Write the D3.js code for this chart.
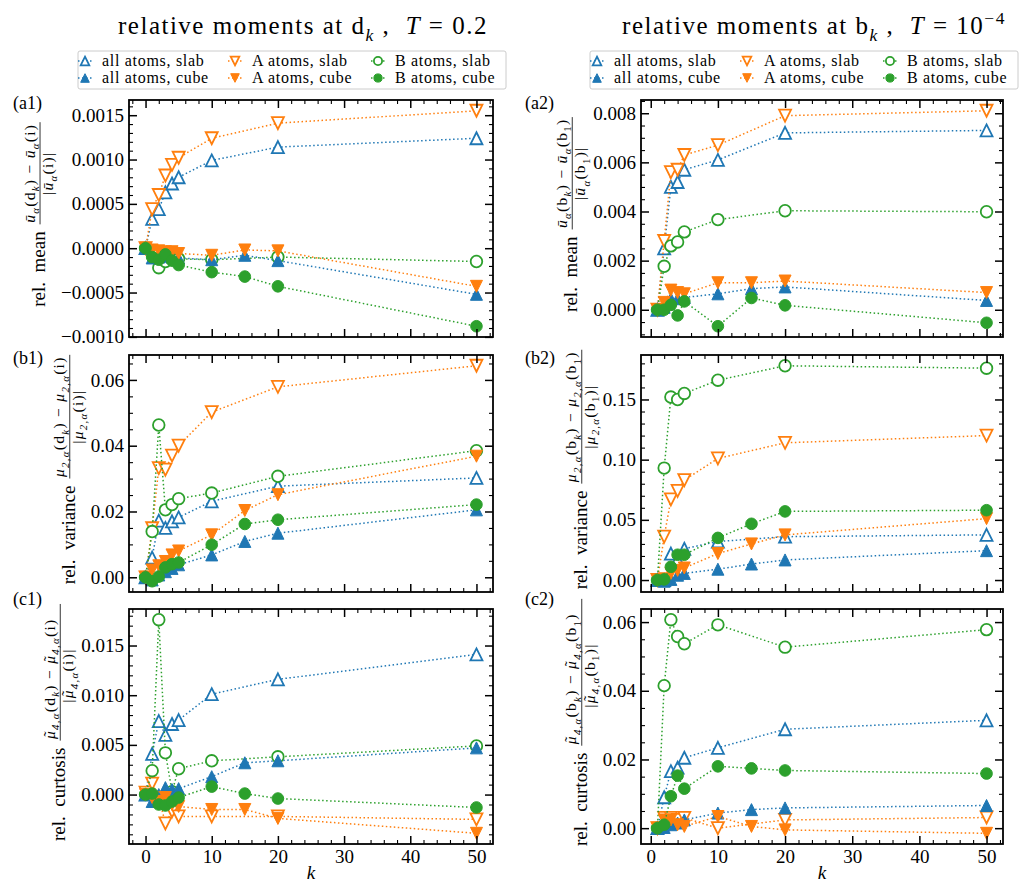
<!DOCTYPE html>
<html>
<head>
<meta charset="utf-8">
<script src="https://cdn.jsdelivr.net/npm/d3@7"></script>
<style>
  body { margin: 0; background: #fff; }
  svg { display: block; }
  svg text { font-family: "Liberation Serif", "Times New Roman", serif; fill: #000; }
</style>
</head>
<body>
<svg id="fig" width="1026" height="884"></svg>
<script>
// ---- k values (slab runs skip k = 15) ----
const kD_slab = [0, 1, 2, 3, 4, 5, 10, 20, 50];
const kD_cube = [0, 1, 2, 3, 4, 5, 10, 15, 20, 50];
const kB_slab = [1, 2, 3, 4, 5, 10, 20, 50];
const kB_cube = [1, 2, 3, 4, 5, 10, 15, 20, 50];

// ---- relative mean, d_k, T = 0.2 ----
const meanD_allSlab = [0, 0.00033, 0.00044, 0.00063, 0.00073, 0.00080, 0.00099, 0.00114, 0.00124];
const meanD_allCube = [0, -0.00011, -0.00010, -0.00009, -0.00010, -0.00011, -0.00013, -0.00008, -0.00014, -0.00052];
const meanD_ASlab   = [0, 0.00044, 0.00060, 0.00082, 0.00094, 0.00102, 0.00124, 0.00141, 0.00155];
const meanD_ACube   = [0, -0.00002, -0.00003, -0.00004, -0.00004, -0.00006, -0.00008, -0.00002, -0.00003, -0.00043];
const meanD_BSlab   = [0, -0.00003, -0.00022, -0.00015, -0.00011, -0.00012, -0.00013, -0.00010, -0.00015];
const meanD_BCube   = [0, -0.00010, -0.00013, -0.00007, -0.00014, -0.00019, -0.00027, -0.00032, -0.00043, -0.00088];

// ---- relative mean, b_k, T = 1e-4 ----
const meanB_allSlab = [0, 0.0025, 0.0050, 0.0052, 0.0057, 0.0061, 0.0072, 0.0073];
const meanB_allCube = [0, 0.0001, 0.00045, 0.00045, 0.0005, 0.00065, 0.00086, 0.00093, 0.00038];
const meanB_ASlab   = [0, 0.0028, 0.0056, 0.0057, 0.0063, 0.0067, 0.0079, 0.0081];
const meanB_ACube   = [0, 0.0003, 0.0008, 0.0007, 0.00065, 0.0011, 0.0011, 0.00117, 0.0007];
const meanB_BSlab   = [0, 0.00177, 0.0026, 0.00276, 0.00317, 0.00367, 0.00403, 0.00399];
const meanB_BCube   = [0, 0.0, 0.0002, -0.00023, 0.00034, -0.00067, 0.00048, 0.00018, -0.00053];

// ---- relative variance, d_k ----
const varD_allSlab = [0, 0.0060, 0.0172, 0.0150, 0.0170, 0.0182, 0.0231, 0.0277, 0.0302];
const varD_allCube = [0, -0.0008, 0.0007, 0.0017, 0.0027, 0.0038, 0.0068, 0.0109, 0.0134, 0.0205];
const varD_ASlab   = [0, 0.0149, 0.0332, 0.0327, 0.0370, 0.0400, 0.0502, 0.0579, 0.0643];
const varD_ACube   = [0, 0.0022, 0.0035, 0.0048, 0.0068, 0.0080, 0.0129, 0.0203, 0.0251, 0.0368];
const varD_BSlab   = [0, 0.0139, 0.0463, 0.0205, 0.0221, 0.0239, 0.0256, 0.0307, 0.0385];
const varD_BCube   = [0, -0.0012, 0.0002, 0.0030, 0.0040, 0.0045, 0.0099, 0.0162, 0.0175, 0.0221];

// ---- relative variance, b_k ----
const varB_allSlab = [0, 0.000, 0.022, 0.017, 0.026, 0.032, 0.036, 0.0375];
const varB_allCube = [0, -0.001, 0.0005, 0.004, 0.0055, 0.009, 0.0133, 0.0167, 0.0244];
const varB_ASlab   = [0, 0.036, 0.067, 0.074, 0.083, 0.101, 0.114, 0.120];
const varB_ACube   = [0, 0.001, 0.0055, 0.008, 0.010, 0.022, 0.030, 0.0375, 0.051];
const varB_BSlab   = [0, 0.093, 0.152, 0.150, 0.155, 0.166, 0.178, 0.176];
const varB_BCube   = [0, 0.0005, 0.011, 0.021, 0.021, 0.035, 0.0467, 0.057, 0.058];

// ---- relative curtosis, d_k ----
const curtD_allSlab = [0, 0.0041, 0.0074, 0.0060, 0.0071, 0.0075, 0.0101, 0.0116, 0.0141];
const curtD_allCube = [0, -0.0007, 0.0000, 0.0007, 0.0005, 0.0006, 0.0018, 0.0032, 0.0034, 0.0047];
const curtD_ASlab   = [0.0002, 0.0011, -0.0003, -0.0029, -0.0017, -0.0022, -0.0022, -0.0022, -0.0025];
const curtD_ACube   = [0, -0.0003, -0.0007, -0.0003, -0.0010, -0.0012, -0.0015, -0.0015, -0.0024, -0.0039];
const curtD_BSlab   = [0, 0.0024, 0.0176, 0.0042, 0.0003, 0.0026, 0.0034, 0.0038, 0.0049];
const curtD_BCube   = [0, 0.0001, -0.0010, -0.0011, -0.0007, -0.0003, 0.0008, 0.0001, -0.0004, -0.0013];

// ---- relative curtosis, b_k ----
const curtB_allSlab = [0, 0.0090, 0.0166, 0.0176, 0.0205, 0.0234, 0.0288, 0.0314];
const curtB_allCube = [0, 0.0002, 0.0010, 0.0015, 0.0024, 0.0044, 0.0054, 0.0059, 0.0066];
const curtB_ASlab   = [0, 0.0030, 0.0030, 0.0024, 0.0030, 0.0000, 0.0024, 0.0031];
const curtB_ACube   = [0, 0.0024, 0.0024, 0.0010, 0.0005, 0.0034, 0.0005, -0.0005, -0.0015];
const curtB_BSlab   = [0, 0.0415, 0.0607, 0.0558, 0.0537, 0.0592, 0.0527, 0.0578];
const curtB_BCube   = [0, 0.0010, 0.0093, 0.0153, 0.0115, 0.0180, 0.0174, 0.0168, 0.0159];

// ---- series styling (legend order) ----
const seriesNames  = ["all atoms, slab", "all atoms, cube", "A atoms, slab", "A atoms, cube", "B atoms, slab", "B atoms, cube"];
const seriesColors = ["#1f77b4", "#1f77b4", "#ff7f0e", "#ff7f0e", "#2ca02c", "#2ca02c"];
const seriesShapes = ["up", "up", "down", "down", "circle", "circle"];
const seriesFilled = [false, true, false, true, false, true];
// slab curves are drawn first, cube curves on top
const drawOrder = [0, 2, 4, 1, 3, 5];

// ---- text pieces ----
const N = t => ({ t });
const I = t => ({ t, it: true });
const S = t => ({ t, sub: true });
const SI = t => ({ t, sub: true, it: true });
const SUP = t => ({ t, sup: true });
const ACC = t => ({ t, acc: true });

function fracParts(sym, idx, at, ref) {
  return {
    num: [...sym, SI(idx), ...at, N(" − "), ...sym, SI(idx), ...ref],
    den: [N("|"), ...sym, SI(idx), ...ref, N("|")]
  };
}
const uBar = [I("ū")];
const mu = [I("μ")];
const muTilde = [I("μ"), ACC("˜")];
const atD = [N("(d"), SI("k"), N(")")];
const atB = [N("(b"), SI("k"), N(")")];
const refI = [N("(i)")];
const refB = [N("(b"), S("1"), N(")")];

const panels = [
  { tag: "(a1)", col: 0, row: 0, ks: [kD_slab, kD_cube],
    data: [meanD_allSlab, meanD_allCube, meanD_ASlab, meanD_ACube, meanD_BSlab, meanD_BCube],
    major: 0.0005, minor: 0.0001, fmt: ".4f", name: "rel.  mean", frac: fracParts(uBar, "α", atD, refI) },
  { tag: "(a2)", col: 1, row: 0, ks: [kB_slab, kB_cube],
    data: [meanB_allSlab, meanB_allCube, meanB_ASlab, meanB_ACube, meanB_BSlab, meanB_BCube],
    major: 0.002, minor: 0.0005, fmt: ".3f", name: "rel.  mean", frac: fracParts(uBar, "α", atB, refB) },
  { tag: "(b1)", col: 0, row: 1, ks: [kD_slab, kD_cube],
    data: [varD_allSlab, varD_allCube, varD_ASlab, varD_ACube, varD_BSlab, varD_BCube],
    major: 0.02, minor: 0.005, fmt: ".2f", name: "rel.  variance", frac: fracParts(mu, "2,α", atD, refI) },
  { tag: "(b2)", col: 1, row: 1, ks: [kB_slab, kB_cube],
    data: [varB_allSlab, varB_allCube, varB_ASlab, varB_ACube, varB_BSlab, varB_BCube],
    major: 0.05, minor: 0.01, fmt: ".2f", name: "rel.  variance", frac: fracParts(mu, "2,α", atB, refB) },
  { tag: "(c1)", col: 0, row: 2, ks: [kD_slab, kD_cube],
    data: [curtD_allSlab, curtD_allCube, curtD_ASlab, curtD_ACube, curtD_BSlab, curtD_BCube],
    major: 0.005, minor: 0.001, fmt: ".3f", name: "rel.  curtosis", frac: fracParts(muTilde, "4,α", atD, refI) },
  { tag: "(c2)", col: 1, row: 2, ks: [kB_slab, kB_cube],
    data: [curtB_allSlab, curtB_allCube, curtB_ASlab, curtB_ACube, curtB_BSlab, curtB_BCube],
    major: 0.02, minor: 0.005, fmt: ".2f", name: "rel.  curtosis", frac: fracParts(muTilde, "4,α", atB, refB) }
];

const titles = [
  [N("relative moments at d"), SI("k"), N(" ,  "), I("T"), N(" = 0.2")],
  [N("relative moments at b"), SI("k"), N(" ,  "), I("T"), N(" = 10"), SUP("−4")]
];

// ---- layout ----
const colX = [[129, 493], [641, 1003]];
const rowY = [[100, 337], [355, 592], [609, 844]];
const tagY = [109, 364, 605];

const svg = d3.select("#fig");

// text with sub/superscripts and over-accents, built from tspans
function rich(textSel, segs, size) {
  let shift = 0;
  let prev = null, pending = 0;
  segs.forEach(s => {
    if (s.acc && prev) {
      const wPrev = prev.node().getComputedTextLength();
      const ts = textSel.append("tspan").text(s.t).attr("font-size", size)
        .attr("dy", -size * 0.08 - shift);
      const wAcc = ts.node().getComputedTextLength();
      ts.attr("dx", -wPrev / 2 - wAcc / 2 + (prev.attr("font-style") ? size * 0.08 : 0));
      shift = -size * 0.08;
      pending = wPrev / 2 - wAcc / 2 - (prev.attr("font-style") ? size * 0.08 : 0);
      return;
    }
    const target = s.sub ? size * 0.28 : (s.sup ? -size * 0.42 : 0);
    const ts = textSel.append("tspan")
      .text(s.t)
      .attr("font-size", (s.sub || s.sup) ? size * 0.7 : size)
      .attr("dy", target - shift);
    if (pending) { ts.attr("dx", pending); pending = 0; }
    if (s.it) ts.attr("font-style", "italic");
    shift = target;
    prev = ts;
  });
}

function markerPath(shape, s) {
  if (shape === "up") return `M0,${-s}L${s},${s}L${-s},${s}Z`;
  if (shape === "down") return `M0,${s}L${s},${-s}L${-s},${-s}Z`;
  const p = d3.path();
  p.moveTo(s, 0);
  p.arc(0, 0, s, 0, 2 * Math.PI);
  p.closePath();
  return p.toString();
}

function stepTicks(lo, hi, step) {
  const out = [];
  const i0 = Math.ceil(lo / step - 1e-9), i1 = Math.floor(hi / step + 1e-9);
  for (let i = i0; i <= i1; i++) out.push(+(i * step).toPrecision(12));
  return out;
}

function drawMarkers(g, shape, filled, color, pts, s) {
  g.selectAll(null).data(pts).join("path")
    .attr("transform", d => `translate(${d[0]},${d[1]})`)
    .attr("d", markerPath(shape, shape === "circle" ? s - 0.2 : s))
    .attr("fill", filled ? color : "#fff")
    .attr("stroke", color)
    .attr("stroke-width", filled ? 1 : 1.8);
}

panels.forEach(p => {
  const [x0, x1] = colX[p.col];
  const [y0, y1] = rowY[p.row];
  const g = svg.append("g");

  const allK = p.ks[0].concat(p.ks[1]);
  const kMin = d3.min(allK), kMax = d3.max(allK);
  const kPad = 0.05 * (kMax - kMin);
  const x = d3.scaleLinear().domain([kMin - kPad, kMax + kPad]).range([x0, x1]);

  const vals = p.data.flat();
  const vMin = d3.min(vals), vMax = d3.max(vals);
  const vPad = 0.05 * (vMax - vMin);
  const y = d3.scaleLinear().domain([vMin - vPad, vMax + vPad]).range([y1, y0]);

  // data: dotted line + markers per series
  drawOrder.forEach(i => {
    const arr = p.data[i];
    const ks = p.ks[i % 2];
    const pts = arr.map((v, j) => [x(ks[j]), y(v)]);
    g.append("path")
      .attr("d", d3.line()(pts))
      .attr("fill", "none")
      .attr("stroke", seriesColors[i])
      .attr("stroke-width", 1.5)
      .attr("stroke-dasharray", "1.5,2.5");
    drawMarkers(g, seriesShapes[i], seriesFilled[i], seriesColors[i], pts, 6);
  });

  // frame
  g.append("rect")
    .attr("x", x0).attr("y", y0).attr("width", x1 - x0).attr("height", y1 - y0)
    .attr("fill", "none").attr("stroke", "#000").attr("stroke-width", 1.8);

  const yd = y.domain(), xd = x.domain();
  const yMaj = stepTicks(yd[0], yd[1], p.major);
  const yMin = stepTicks(yd[0], yd[1], p.minor).filter(v => !yMaj.some(m => Math.abs(m - v) < p.minor / 10));
  const xMaj = stepTicks(xd[0], xd[1], 10);
  const xMin = stepTicks(xd[0], xd[1], 2).filter(v => v % 10 !== 0);
  const fmt = d3.format(p.fmt);

  const clean = sel => sel.call(s => s.select(".domain").remove())
    .call(s => s.selectAll("line").attr("stroke", "#000"))
    .attr("font-family", null).attr("font-size", null);

  // left
  const yAxisG = g.append("g").attr("transform", `translate(${x0},0)`)
    .call(d3.axisLeft(y).tickValues(yMaj).tickSize(-8).tickPadding(5).tickFormat(fmt)).call(clean);
  yAxisG.selectAll("line").attr("stroke-width", 1.5);
  yAxisG.selectAll("text").attr("font-size", 19);
  g.append("g").attr("transform", `translate(${x0},0)`)
    .call(d3.axisLeft(y).tickValues(yMin).tickSize(-4).tickFormat("")).call(clean)
    .selectAll("line").attr("stroke-width", 1.1);
  // right
  g.append("g").attr("transform", `translate(${x1},0)`)
    .call(d3.axisRight(y).tickValues(yMaj).tickSize(-8).tickFormat("")).call(clean)
    .selectAll("line").attr("stroke-width", 1.5);
  g.append("g").attr("transform", `translate(${x1},0)`)
    .call(d3.axisRight(y).tickValues(yMin).tickSize(-4).tickFormat("")).call(clean)
    .selectAll("line").attr("stroke-width", 1.1);
  // top
  g.append("g").attr("transform", `translate(0,${y0})`)
    .call(d3.axisTop(x).tickValues(xMaj).tickSize(-8).tickFormat("")).call(clean)
    .selectAll("line").attr("stroke-width", 1.5);
  g.append("g").attr("transform", `translate(0,${y0})`)
    .call(d3.axisTop(x).tickValues(xMin).tickSize(-4).tickFormat("")).call(clean)
    .selectAll("line").attr("stroke-width", 1.1);
  // bottom
  const isBottom = p.row === 2;
  const xAxisG = g.append("g").attr("transform", `translate(0,${y1})`)
    .call(d3.axisBottom(x).tickValues(xMaj).tickSize(-8).tickPadding(5.5).tickFormat(isBottom ? d3.format("d") : "")).call(clean);
  xAxisG.selectAll("line").attr("stroke-width", 1.5);
  xAxisG.selectAll("text").attr("font-size", 19);
  g.append("g").attr("transform", `translate(0,${y1})`)
    .call(d3.axisBottom(x).tickValues(xMin).tickSize(-4).tickFormat("")).call(clean)
    .selectAll("line").attr("stroke-width", 1.1);

  if (isBottom) {
    g.append("text").attr("x", (x0 + x1) / 2).attr("y", 879)
      .attr("text-anchor", "middle").attr("font-size", 19).attr("font-style", "italic").text("k");
  }

  // panel tag
  g.append("text").attr("x", x0 - 116).attr("y", tagY[p.row]).attr("font-size", 18).text(p.tag);

  // y label: name + fraction, rotated
  let minX = Infinity;
  yAxisG.selectAll("text").each(function () {
    const b = this.getBBox();
    minX = Math.min(minX, x0 + b.x);
  });
  const cx = minX - 16, cy = (y0 + y1) / 2 - 4;
  const lg = g.append("g").attr("transform", `translate(${cx},${cy}) rotate(-90)`);
  const nameT = lg.append("text").attr("font-size", 19).attr("xml:space", "preserve").text(p.name);
  const FS = 15.5;
  const numT = lg.append("text").attr("font-size", FS).attr("letter-spacing", 1.3).attr("xml:space", "preserve");
  rich(numT, p.frac.num, FS);
  const denT = lg.append("text").attr("font-size", FS).attr("letter-spacing", 1.3).attr("xml:space", "preserve");
  rich(denT, p.frac.den, FS);
  const wName = nameT.node().getComputedTextLength();
  const wNum = numT.node().getComputedTextLength();
  const wDen = denT.node().getComputedTextLength();
  const wFrac = Math.max(wNum, wDen) + 3;
  const gap = 7;
  const total = wName + gap + wFrac;
  const u0 = -total / 2;
  nameT.attr("x", u0).attr("y", 0);
  const fc = u0 + wName + gap + wFrac / 2;
  const axisV = -5;
  lg.append("line").attr("x1", fc - wFrac / 2).attr("x2", fc + wFrac / 2)
    .attr("y1", axisV).attr("y2", axisV).attr("stroke", "#000").attr("stroke-width", 0.8);
  numT.attr("x", fc - wNum / 2).attr("y", axisV - 5.5);
  denT.attr("x", fc - wDen / 2).attr("y", axisV + 13);
});

// ---- titles ----
titles.forEach((segs, c) => {
  const [x0, x1] = colX[c];
  const t = svg.append("text").attr("y", 34)
    .attr("font-size", 25).attr("letter-spacing", 1.5)
    .attr("xml:space", "preserve");
  rich(t, segs, 25);
  const w = t.node().getComputedTextLength();
  t.attr("x", (x0 + x1) / 2 - 8 - w / 2);
});

// ---- legends ----
colX.forEach(([x0]) => {
  const lx = x0 - 51, ly = 51;
  const lg = svg.append("g").attr("transform", `translate(${lx},${ly})`);
  lg.append("rect").attr("x", 0).attr("y", 0).attr("width", 428).attr("height", 38)
    .attr("rx", 2).attr("fill", "#fff").attr("fill-opacity", 0.8)
    .attr("stroke", "#cccccc").attr("stroke-width", 1);
  const colOff = [7, 157, 300];
  const rowOff = [10, 27];
  seriesNames.forEach((name, i) => {
    const cx = colOff[Math.floor(i / 2)], cy = rowOff[i % 2];
    lg.append("line").attr("x1", cx - 7).attr("x2", cx + 7).attr("y1", cy).attr("y2", cy)
      .attr("stroke", seriesColors[i]).attr("stroke-width", 1.5).attr("stroke-dasharray", "1.5,2.5");
    drawMarkers(lg, seriesShapes[i], seriesFilled[i], seriesColors[i], [[cx, cy]], 4.3);
    lg.append("text").attr("x", cx + 17).attr("y", cy + 5).attr("font-size", 16)
      .attr("letter-spacing", 0.7).text(name);
  });
});
</script>
</body>
</html>
